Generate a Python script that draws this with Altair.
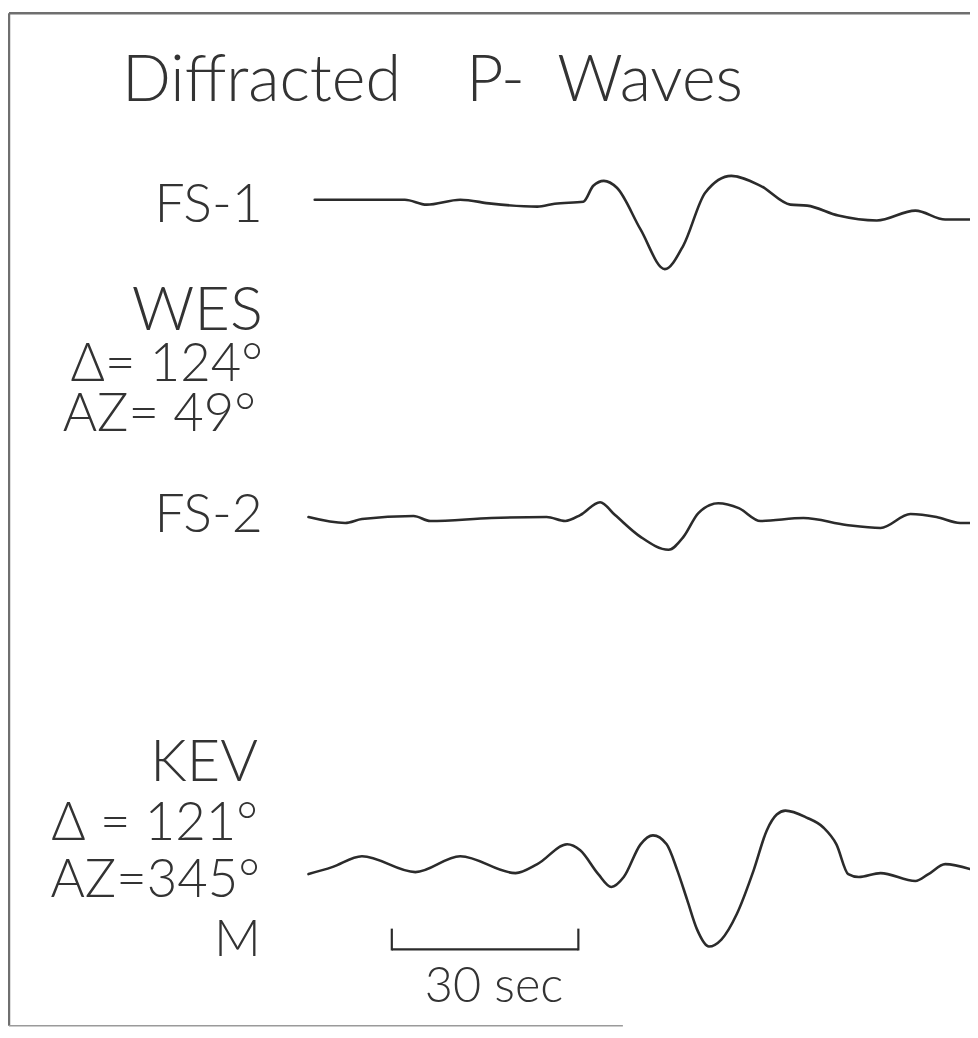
import altair as alt
import pandas as pd

# ---------------- data ----------------
# time in seconds (0 = start of the 30 s scale bar), amplitude in arbitrary units (up = +)
fs1_t = [-12.4, 2.1, 5.6, 11.0, 16.0, 23.4, 26.2, 30.8, 32.4, 34.1, 36.2, 40.0, 43.9,
         46.9, 50.4, 54.6, 59.3, 64.1, 66.8, 71.8, 78.0, 84.2, 89.0, 93.0]
fs1_a = [0, 0, -5, 0, -4, -7, -4, -2, 14, 19, 12, -30, -70,
         -46, 7, 24, 14, -5, -6, -16, -21, -11, -20, -20]

fs2_t = [-13.4, -7.5, -4.8, 3.5, 6.2, 16.0, 24.9, 27.9, 30.3, 33.5, 35.9, 40.0, 44.5,
         46.9, 49.3, 52.5, 55.8, 59.3, 66.2, 73.1, 78.6, 83.4, 87.6, 91.4, 93.0]
fs2_a = [0, -6, -2, 1, -4, -1, 0, -4, 2, 15, 2, -20, -33,
         -20, 4, 14, 9, -4, -1, -8, -11, 3, 0, -6, -6]

kev_t = [-13.4, -9.6, -4.8, 3.8, 11.0, 19.9, 23.4, 28.2, 30.3, 33.2, 35.3, 37.3, 40.0,
         42.0, 44.2, 45.9, 47.5, 49.1, 51.0, 53.0, 55.5, 58.2, 60.3, 61.9, 63.3, 66.7,
         69.4, 71.5, 73.4, 75.1, 78.6, 84.2, 86.3, 89.0, 93.0]
kev_a = [-7, 0, 11, -5, 11, -6, 3, 23, 17, -7, -20, -10, 23,
         32, 23, -3, -33, -63, -80, -73, -47, -3, 37, 53, 57, 50,
         40, 23, -7, -10, -6, -14, -7, 3, -2]

scale_bar_t = [0, 30]

title_words = ["Diffracted", "P-", "Waves"]
station_labels = ["FS-1", "WES", "Δ= 124°", "AZ= 49°", "FS-2",
                  "KEV", "Δ = 121°", "AZ=345°", "M"]
scale_label = "30 sec"

# ---------------- layout ----------------
W, H = 970, 1030
PX_PER_SEC = 6.27
T_ORIGIN_X = 395 - 8          # plot x of t = 0
t_min = -T_ORIGIN_X / PX_PER_SEC
t_max = (W - T_ORIGIN_X) / PX_PER_SEC
baselines = {"FS-1": 189, "FS-2": 509, "KEV": 862}   # plot-y of each trace's rest line

frames = []
for name, ts, amps in [("FS-1", fs1_t, fs1_a), ("FS-2", fs2_t, fs2_a), ("KEV", kev_t, kev_a)]:
    df = pd.DataFrame({"t": ts, "amp": amps})
    df["station"] = name
    df["order"] = range(len(df))
    df["v"] = -baselines[name] + df["amp"]
    frames.append(df)
traces = pd.concat(frames, ignore_index=True)

xscale = alt.Scale(domain=[t_min, t_max], nice=False, zero=False)
yscale = alt.Scale(domain=[-H, 0], nice=False, zero=False)
INK = "#2b2b2b"

lines = alt.Chart(traces).mark_line(
    color=INK, strokeWidth=2.6, interpolate="monotone", strokeCap="round", strokeJoin="round"
).encode(
    x=alt.X("t:Q", scale=xscale, axis=None),
    y=alt.Y("v:Q", scale=yscale, axis=None),
    detail="station:N",
    order="order:Q",
)

bar_df = pd.DataFrame({"t0": [scale_bar_t[0]], "t1": [scale_bar_t[1]]})
bar_h = alt.Chart(bar_df).mark_rule(color=INK, strokeWidth=2.2).encode(
    x=alt.X("t0:Q", scale=xscale, axis=None), x2="t1:Q", y=alt.value(945)
)
ends_df = pd.DataFrame({"t": scale_bar_t})
bar_v = alt.Chart(ends_df).mark_rule(color=INK, strokeWidth=2.2).encode(
    x=alt.X("t:Q", scale=xscale, axis=None), y=alt.value(924), y2=alt.value(946)
)

FONT = "Lato"
layers = [lines, bar_h, bar_v]

def txt(s, x, y, size, align):
    return alt.Chart(pd.DataFrame({"s": [s]})).mark_text(
        font=FONT, fontWeight=300, fontSize=size, align=align, baseline="alphabetic",
        color="#333333"
    ).encode(text="s:N", x=alt.value(x), y=alt.value(y))

layers.append(txt(title_words[0], 115, 89, 65, "left"))
layers.append(txt(title_words[1], 462, 89, 65, "left"))
layers.append(txt(title_words[2], 741, 89, 65, "right"))

label_layout = [  # (right x, baseline y, size)
    (257, 212, 54), (257, 320, 62), (257, 372, 53), (250, 422, 53), (257, 524, 54),
    (252, 775, 58), (252, 835, 53), (254, 892, 53), (255, 952, 52),
]
for s, (x, y, size) in zip(station_labels, label_layout):
    layers.append(txt(s, x, y, size, "right"))

layers.append(txt(scale_label, 490, 998, 49, "center"))

# frame of the original figure
frame_top = alt.Chart(pd.DataFrame({"a": [0]})).mark_rule(color="#6f6f6f", strokeWidth=2.5).encode(
    x=alt.value(1), x2=alt.value(W), y=alt.value(1)
)
frame_left = alt.Chart(pd.DataFrame({"a": [0]})).mark_rule(color="#6f6f6f", strokeWidth=2.5).encode(
    x=alt.value(1), y=alt.value(1), y2=alt.value(1022)
)
frame_bottom = alt.Chart(pd.DataFrame({"a": [0]})).mark_rule(color="#9a9a9a", strokeWidth=1.5).encode(
    x=alt.value(1), x2=alt.value(620), y=alt.value(1022)
)
layers += [frame_top, frame_left, frame_bottom]

chart = alt.layer(*layers).properties(
    width=W, height=H, padding=0, autosize=alt.AutoSizeParams(type="none"),
    background="white"
).configure_view(strokeWidth=0)

chart.save("out.html", embed_options={"renderer": "svg", "actions": False})
